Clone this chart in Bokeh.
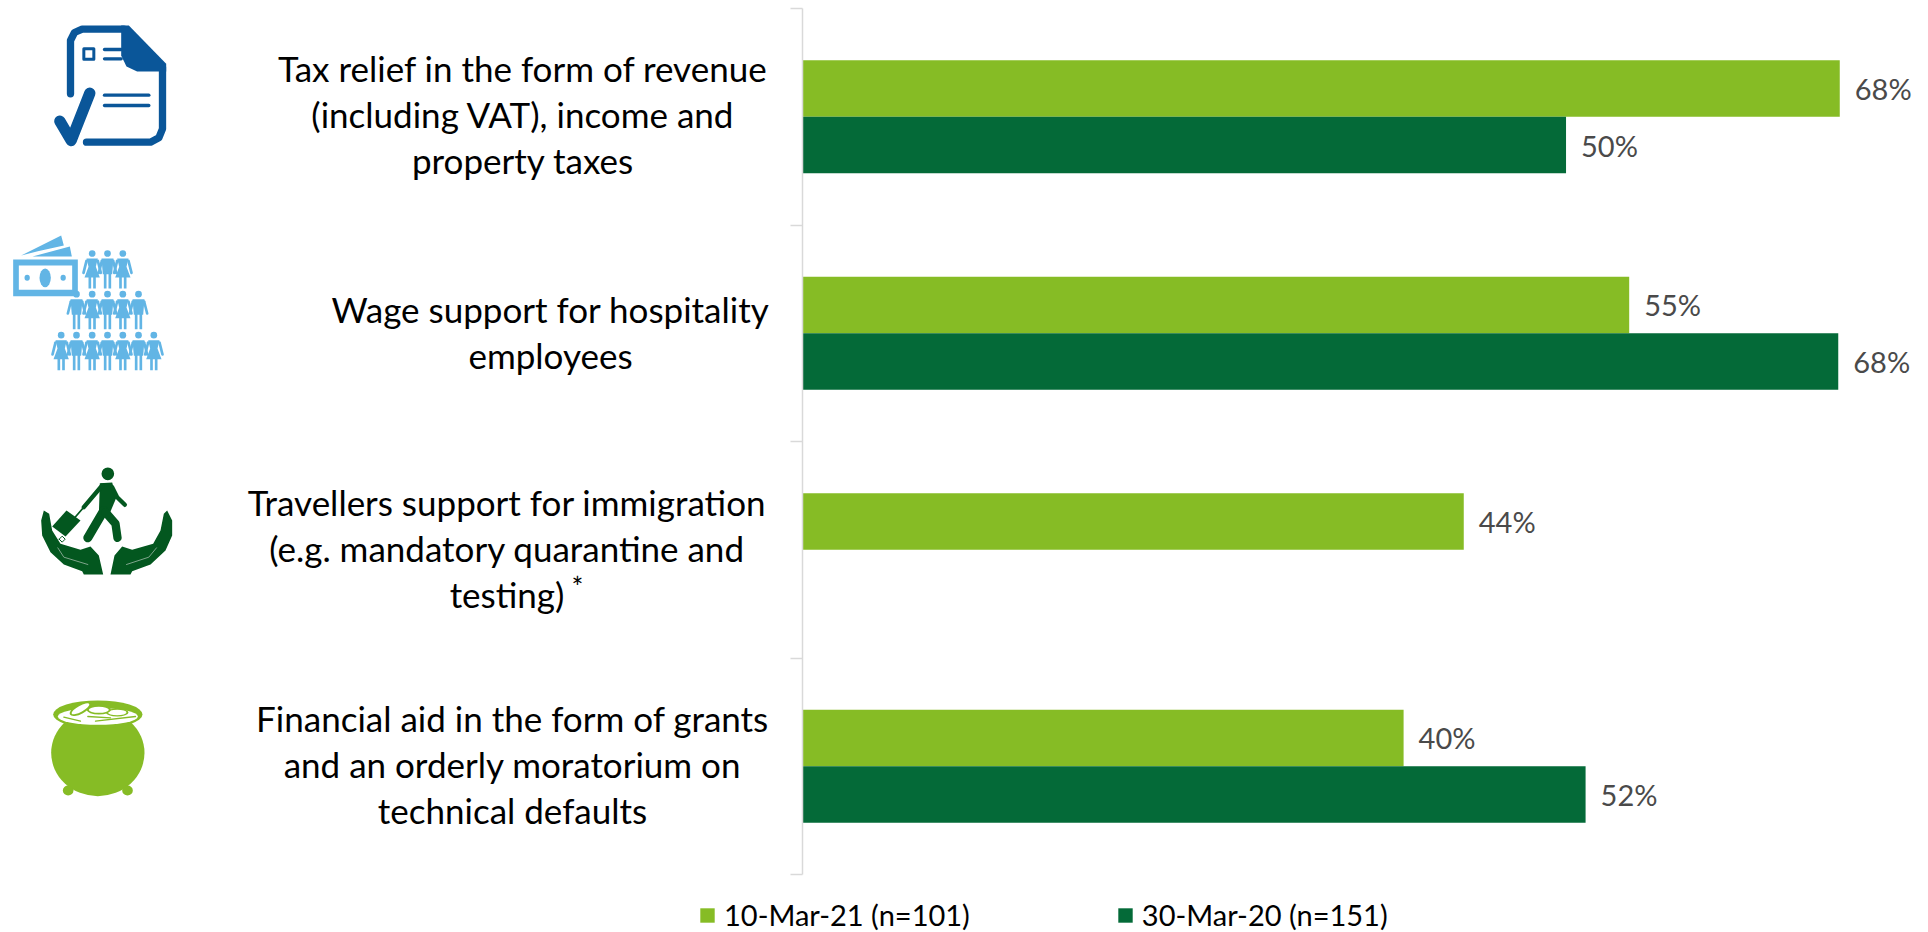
from bokeh.embed import file_html
from bokeh.resources import INLINE
from bokeh.plotting import figure
from bokeh.models import Range1d, LinearAxis, FixedTicker, Legend, LegendItem, ColumnDataSource
from bokeh.core.properties import value

category_lines = [
    ["Tax relief in the form of revenue", "(including VAT), income and", "property taxes"],
    ["Wage support for hospitality", "employees"],
    ["Travellers support for immigration", "(e.g. mandatory quarantine and", "testing)"],
    ["Financial aid in the form of grants", "and an orderly moratorium on", "technical defaults"],
]
series_names = ["10-Mar-21 (n=101)", "30-Mar-20 (n=151)"]
labels_2021 = ["68%", "55%", "44%", "40%"]
labels_2020 = ["50%", "68%", None, "52%"]
# bar lengths (the source's bars are not exactly at their rounded labels)
values_2021 = [69.0, 55.0, 44.0, 40.0]
values_2020 = [50.8, 68.9, None, 52.1]
tick_positions = [0, 1, 2, 3, 4]

LIGHT, DARK = "#86BC25", "#046A38"
BLUE, SKY, FOREST = "#0A5699", "#62B5E5", "#03571F"
FONT = value("Lato")

W, H = 1928, 932
PX_PER_UNIT = 15.04
AXIS_X = 801.5
CAT_H = 216.5
TOP = 8
x_range = Range1d(-AXIS_X / PX_PER_UNIT, (W - AXIS_X) / PX_PER_UNIT)
y_range = Range1d((H - TOP) / CAT_H, -TOP / CAT_H)
p = figure(width=W, height=H, x_range=x_range, y_range=y_range, output_backend="svg",
           toolbar_location=None, min_border=0, outline_line_color=None,
           x_axis_type=None, y_axis_type=None, background_fill_color="white")
p.grid.visible = False
p.extra_x_ranges["px"] = Range1d(0, W)
p.extra_y_ranges["px"] = Range1d(H, 0)
PX = dict(x_range_name="px", y_range_name="px")

axis = LinearAxis(ticker=FixedTicker(ticks=tick_positions), bounds=(0, 4), fixed_location=0,
                  major_label_overrides={t: "" for t in tick_positions},
                  major_tick_in=0, major_tick_out=12, minor_tick_line_color=None,
                  axis_line_color="#D9D9D9", major_tick_line_color="#D9D9D9",
                  axis_line_width=1.5, major_tick_line_width=1.5)
p.add_layout(axis, "left")

# bars and their labels
BAR = 0.2614
def series(vals, labs, offset, color):
    rows = [(i + offset, v, l) for i, (v, l) in enumerate(zip(vals, labs)) if v is not None]
    src = ColumnDataSource(dict(y=[r[0] for r in rows], v=[r[1] for r in rows], t=[r[2] for r in rows]))
    r = p.hbar(y="y", left=0, right="v", height=BAR, color=color, line_color=None, source=src)
    p.text(x="v", y="y", text="t", source=src, x_offset=15, text_align="left", text_baseline="middle",
           text_font=FONT, text_font_size="29px", text_color="#4A4A4A")
    return r
r1 = series(values_2021, labels_2021, 0.5 - BAR / 2, LIGHT)
r2 = series(values_2020, labels_2020, 0.5 + BAR / 2, DARK)

# category labels, centred lines
CENTRES = [522.5, 550, 506.5, 512]
FIRST_Y = [67, 308, 501, 717]
for lines, cx, y0 in zip(category_lines, CENTRES, FIRST_Y):
    for j, line in enumerate(lines):
        p.text([cx], [y0 + j * 46.2], [line], text_align="center", text_baseline="middle",
               text_font=FONT, text_font_size="35px", text_color="#000000", **PX)
p.text([577], [586], ["*"], text_align="center", text_baseline="middle", text_font=FONT,
       text_font_size="28px", text_color="#000000", **PX)

legend = Legend(items=[LegendItem(label=series_names[0], renderers=[r1]),
                       LegendItem(label=series_names[1], renderers=[r2])],
                orientation="horizontal", location=(698, 0), glyph_width=18, glyph_height=18,
                label_standoff=8, spacing=146, padding=0, margin=0, border_line_color=None,
                background_fill_alpha=0, label_text_font="Lato", label_text_font_size="29px",
                label_text_color="#000000", label_height=18)
p.add_layout(legend, "center")

# ---- icons, drawn in page pixels ----
def poly(pts, color, ox, oy):
    p.patch([ox + a / 3 for a, _ in pts], [oy + b / 3 for _, b in pts], color=color, line_color=None, **PX)
def stroke(pts, color, w, ox, oy, cap="round"):
    p.line([ox + a / 3 for a, _ in pts], [oy + b / 3 for _, b in pts], line_color=color, line_width=w / 3,
           line_cap=cap, line_join="round", **PX)
def oval(cx, cy, rx, ry, color, ox, oy, angle=0):
    p.ellipse([ox + cx / 3], [oy + cy / 3], width=2 * rx / 3, height=2 * ry / 3, angle=angle,
              color=color, line_color=None, **PX)

# document with tick
stroke([(210, 280), (210, 120), (222, 96), (245, 86), (370, 86)], BLUE, 22, 0, 0)
stroke([(486, 200), (486, 385), (475, 412), (450, 425), (258, 425)], BLUE, 22, 0, 0)
poly([(362, 75), (385, 75), (497, 190), (497, 213), (410, 213), (378, 198), (362, 165)], BLUE, 0, 0)
stroke([(178, 362), (212, 420), (268, 278)], BLUE, 34, 0, 0)
stroke([(250, 145), (280, 145), (280, 176), (250, 176), (250, 145)], BLUE, 9, 0, 0)
for seg in [[(312, 147), (362, 147)], [(312, 175), (362, 175)], [(312, 284), (445, 284)], [(312, 315), (445, 315)]]:
    stroke(seg, BLUE, 10, 0, 0)

# money and people
poly([(38, 777), (232, 777), (232, 887), (38, 887)], SKY, 0, 0)
poly([(55, 795), (215, 795), (215, 868), (55, 868)], "#FFFFFF", 0, 0)
oval(134, 832, 17, 28, SKY, 0, 0)
oval(80, 832, 8, 9, SKY, 0, 0)
oval(188, 832, 8, 9, SKY, 0, 0)
poly([(62, 765), (182, 705), (190, 735), (112, 752)], SKY, 0, 0)
poly([(96, 768), (208, 738), (214, 768)], SKY, 0, 0)
def person(x, yh, female):
    oval(x, yh, 10, 10, SKY, 0, 0)
    stroke([(x - 17, yh + 22), (x - 26, yh + 58)], SKY, 8, 0, 0)
    stroke([(x + 17, yh + 22), (x + 26, yh + 58)], SKY, 8, 0, 0)
    if female:
        poly([(x - 17, yh + 15), (x + 17, yh + 15), (x + 11, yh + 40), (x + 23, yh + 72), (x - 23, yh + 72), (x - 11, yh + 40)], SKY, 0, 0)
    else:
        poly([(x - 18, yh + 15), (x + 18, yh + 15), (x + 14, yh + 62), (x - 14, yh + 62)], SKY, 0, 0)
    for sx in (-11, 3):
        poly([(x + sx, yh + 55), (x + sx + 8, yh + 55), (x + sx + 8, yh + 105), (x + sx, yh + 105)], SKY, 0, 0)
rows = [(759, [275, 321, 367], True), (881, [228, 275, 321, 367, 414], False),
        (1004, [182, 228, 275, 321, 367, 414, 460], True)]
for yh, xs, first_f in rows:
    for k, x in enumerate(xs):
        person(x, yh, (k % 2 == 0) == first_f)

# traveller in hands
Y3 = 460
oval(322, 40, 19, 19, FOREST, 0, Y3)
poly([(298, 68), (335, 66), (348, 110), (325, 165), (295, 165)], FOREST, 0, Y3)
stroke([(335, 80), (350, 110), (373, 133)], FOREST, 13, 0, Y3)
stroke([(305, 75), (250, 140)], FOREST, 13, 0, Y3)
stroke([(250, 140), (205, 192)], FOREST, 5, 0, Y3)
poly([(198, 150), (240, 180), (195, 228), (155, 198)], FOREST, 0, Y3)
stroke([(310, 150), (262, 232)], FOREST, 27, 0, Y3)
stroke([(315, 155), (345, 190), (351, 232)], FOREST, 25, 0, Y3)
left = [(122, 180), (130, 150), (146, 160), (155, 210), (180, 250), (240, 268), (270, 258), (295, 285),
        (308, 342), (250, 342), (245, 332), (190, 312), (150, 275), (125, 225)]
right = [(515, 180), (500, 150), (490, 160), (480, 210), (458, 250), (395, 268), (365, 258), (342, 285),
         (330, 342), (390, 342), (395, 332), (450, 312), (495, 270), (515, 225)]
poly(left, FOREST, 0, Y3)
poly(right, FOREST, 0, Y3)
stroke([(172, 262), (190, 290), (262, 312)], "#7FA58C", 3, 0, Y3)
stroke([(468, 262), (445, 290), (378, 312)], "#7FA58C", 3, 0, Y3)
oval(185, 236, 9, 9, "#FFFFFF", 0, Y3)
stroke([(176, 236), (185, 227), (194, 236), (185, 245), (176, 236)], FOREST, 3, 0, Y3)

# pot of coins
oval(292, 877, 140, 130, LIGHT, 0, Y3)
oval(203, 990, 16, 15, LIGHT, 0, Y3)
oval(381, 990, 16, 15, LIGHT, 0, Y3)
oval(292, 762, 134, 42, LIGHT, 0, Y3)
oval(292, 768, 120, 25, "#FFFFFF", 0, Y3)
stroke([(190, 770), (240, 782)], LIGHT, 4, 0, Y3)
stroke([(262, 768), (330, 772)], LIGHT, 4, 0, Y3)
stroke([(285, 782), (405, 768)], LIGHT, 4, 0, Y3)
oval(350, 756, 34, 12, LIGHT, 0, Y3)
oval(350, 756, 28, 8, "#FFFFFF", 0, Y3)
oval(295, 748, 36, 14, LIGHT, 0, Y3)
oval(295, 748, 30, 9, "#FFFFFF", 0, Y3)
oval(240, 745, 36, 15, LIGHT, 0, Y3, angle=0.5)
oval(240, 745, 30, 9, "#FFFFFF", 0, Y3, angle=0.5)

open("out.html", "w").write(file_html(p, INLINE))
